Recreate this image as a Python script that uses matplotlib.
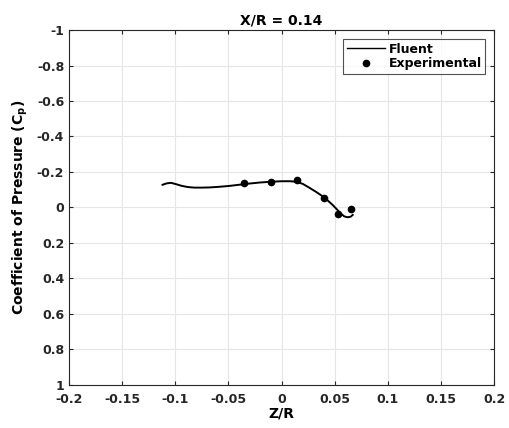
import numpy as np
import matplotlib
matplotlib.use('Agg')
from matplotlib import pyplot as plt

# fluent curve (Z/R, Cp)
zr_fluent = [-0.112, -0.108, -0.104, -0.099, -0.094, -0.088, -0.082, -0.075, -0.068, -0.06,
             -0.05, -0.04, -0.03, -0.02, -0.01, 0.0, 0.008, 0.014, 0.02, 0.026,
             0.032, 0.038, 0.043, 0.048, 0.052, 0.056, 0.059, 0.062, 0.065, 0.067]
cp_fluent = [-0.128, -0.136, -0.139, -0.131, -0.122, -0.115, -0.112, -0.112, -0.113, -0.116,
             -0.121, -0.128, -0.135, -0.141, -0.145, -0.148, -0.148, -0.145, -0.133, -0.112,
             -0.09, -0.066, -0.042, -0.015, 0.01, 0.035, 0.05, 0.055, 0.052, 0.042]

# experimental points
zr_exp = [-0.035, -0.010, 0.015, 0.040, 0.053, 0.065]
cp_exp = [-0.14, -0.144, -0.155, -0.055, 0.035, 0.008]

xticks = [-0.2, -0.15, -0.1, -0.05, 0, 0.05, 0.1, 0.15, 0.2]
yticks = [-1, -0.8, -0.6, -0.4, -0.2, 0, 0.2, 0.4, 0.6, 0.8, 1]

plt.rcParams['font.family'] = ['DejaVu Sans']
plt.rcParams['font.weight'] = 'bold'
plt.rcParams['mathtext.default'] = 'bf'

fig = plt.figure(figsize=(5.09, 4.28), dpi=100)
ax = fig.add_axes([0.1356, 0.1005, 0.835, 0.8294])

ax.plot(zr_fluent, cp_fluent, color='black', lw=1.4, label='Fluent')
ax.plot(zr_exp, cp_exp, 'o', color='black', ms=4.5, label='Experimental')

ax.set_xlim(-0.2, 0.2)
ax.set_ylim(1, -1)
ax.set_xticks(xticks)
ax.set_xticklabels(['-0.2', '-0.15', '-0.1', '-0.05', '0', '0.05', '0.1', '0.15', '0.2'])
ax.set_yticks(yticks)
ax.set_yticklabels(['-1', '-0.8', '-0.6', '-0.4', '-0.2', '0', '0.2', '0.4', '0.6', '0.8', '1'])
ax.tick_params(direction='in', labelsize=9, length=3, top=True, right=True, colors='#262626')
ax.tick_params(axis='x', pad=6)
ax.grid(True, color='#e6e6e6', lw=0.8)
ax.set_axisbelow(True)
for s in ax.spines.values():
    s.set_color('#262626')
    s.set_linewidth(0.8)

ax.set_xlabel('Z/R', fontsize=10, fontweight='bold', labelpad=0)
ax.set_ylabel('Coefficient of Pressure (C$_p$)', fontsize=10, fontweight='bold', labelpad=5)
ax.set_title('X/R = 0.14', fontsize=10, fontweight='bold', pad=4)

leg = ax.legend(loc='upper right', fontsize=9, frameon=True, fancybox=False,
                edgecolor='#262626', borderaxespad=0.7, handlelength=3.0,
                borderpad=0.3, labelspacing=0.15, handletextpad=0.3)
leg.get_frame().set_linewidth(0.8)
leg.get_lines()[0].set_linewidth(1.0)

fig.savefig('out.png', dpi=100)
